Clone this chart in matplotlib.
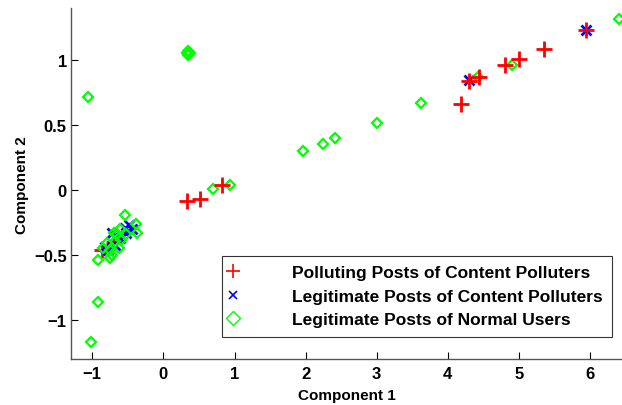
import numpy as np
import matplotlib.pyplot as plt

plt.rcParams['font.family'] = ['Liberation Sans', 'DejaVu Sans']
plt.rcParams['font.weight'] = 'bold'

# polluting posts of content polluters
red_x = [0.33, 0.52, 0.82, 4.19, 4.30, 4.44, 4.80, 5.00, 5.35, 5.94]
red_y = [-0.085, -0.07, 0.036, 0.667, 0.84, 0.87, 0.96, 1.01, 1.09, 1.235]
# the ones buried inside the cluster
red_hidden_x = [-0.86, -0.70]
red_hidden_y = [-0.46, -0.40]

# legitimate posts of content polluters
blue_x = [4.30, 5.94, -0.49, -0.445, -0.54, -0.61, -0.775, -0.68, -0.72, -0.52, -0.82]
blue_y = [0.85, 1.235, -0.265, -0.30, -0.29, -0.37, -0.46, -0.42, -0.33, -0.33, -0.44]

# legitimate posts of normal users
green_x = [6.41, 0.33, 0.37, 0.35, 0.35, -1.06, 3.62, 4.90, 4.43, 1.97, 2.25, 2.42, 3.00,
           0.70, 0.94, -0.92, -1.02, -0.54, -0.38, -0.37, -0.92, -0.75, -0.70,
           -0.61, -0.80, -0.85, -0.68, -0.75, -0.63, -0.59, -0.52, -0.66, -0.73]
green_y = [1.32, 1.056, 1.056, 1.068, 1.044, 0.715, 0.67, 0.963, 0.87, 0.30, 0.355, 0.40, 0.515,
           0.005, 0.036, -0.86, -1.166, -0.19, -0.26, -0.33, -0.54, -0.52, -0.33,
           -0.30, -0.41, -0.445, -0.39, -0.46, -0.445, -0.38, -0.34, -0.34, -0.50]

labels = ['Polluting Posts of Content Polluters',
          'Legitimate Posts of Content Polluters',
          'Legitimate Posts of Normal Users']

fig = plt.figure(figsize=(6.22, 4.06), dpi=100)
ax = fig.add_axes([71 / 622, 46 / 406, 551 / 622, 350.7 / 406])

ax.plot(red_hidden_x, red_hidden_y, '+', color='#ff0000', ms=11, mew=2.0, zorder=0.5)
ax.plot(red_x, red_y, '+', color='#ff0000', ms=11, mew=2.0, zorder=3)
ax.plot(blue_x, blue_y, 'x', color='#0000ff', ms=7.5, mew=2.0, zorder=1)
ax.plot(green_x, green_y, 'D', color='#00ff00', mfc='none', ms=5, mew=1.6, zorder=2)

ax.set_xlim(-1.3, 6.45)
ax.set_ylim(-1.3, 1.4)
ax.set_xticks([-1, 0, 1, 2, 3, 4, 5, 6])
ax.set_yticks([-1, -0.5, 0, 0.5, 1])
ax.set_xticklabels(['\u22121', '0', '1', '2', '3', '4', '5', '6'])
ax.set_yticklabels(['\u22121', '\u22120.5', '0', '0.5', '1'])
ax.tick_params(direction='in', length=5, width=0.8, labelsize=12)
ax.tick_params(axis='x', pad=5)
ax.tick_params(axis='y', pad=3)
ax.spines['top'].set_visible(False)
ax.spines['right'].set_visible(False)
for s in ['left', 'bottom']:
    ax.spines[s].set_color('#555555')
    ax.spines[s].set_linewidth(1.0)

ax.set_xlabel('Component 1', fontsize=11, fontweight='bold', labelpad=5)
ax.set_ylabel('Component 2', fontsize=11, fontweight='bold', labelpad=4)

leg_r, = ax.plot([], [], '+', color='#ff0000', ms=10, mew=1.2)
leg_b, = ax.plot([], [], 'x', color='#0000ff', ms=6, mew=1.2)
leg_g, = ax.plot([], [], 'D', color='#00ff00', mfc='none', ms=7, mew=1.0)
leg = ax.legend([leg_r, leg_b, leg_g], labels, loc='lower right',
                bbox_to_anchor=(0.982, 0.063), fontsize=12.5, frameon=True,
                fancybox=False, edgecolor='black', handlelength=0.16,
                handletextpad=3.3, borderpad=0.55, labelspacing=0.48,
                borderaxespad=0)
leg.get_frame().set_linewidth(0.8)
for t in leg.get_texts():
    t.set_fontweight('bold')

fig.savefig('out.png', dpi=100)
